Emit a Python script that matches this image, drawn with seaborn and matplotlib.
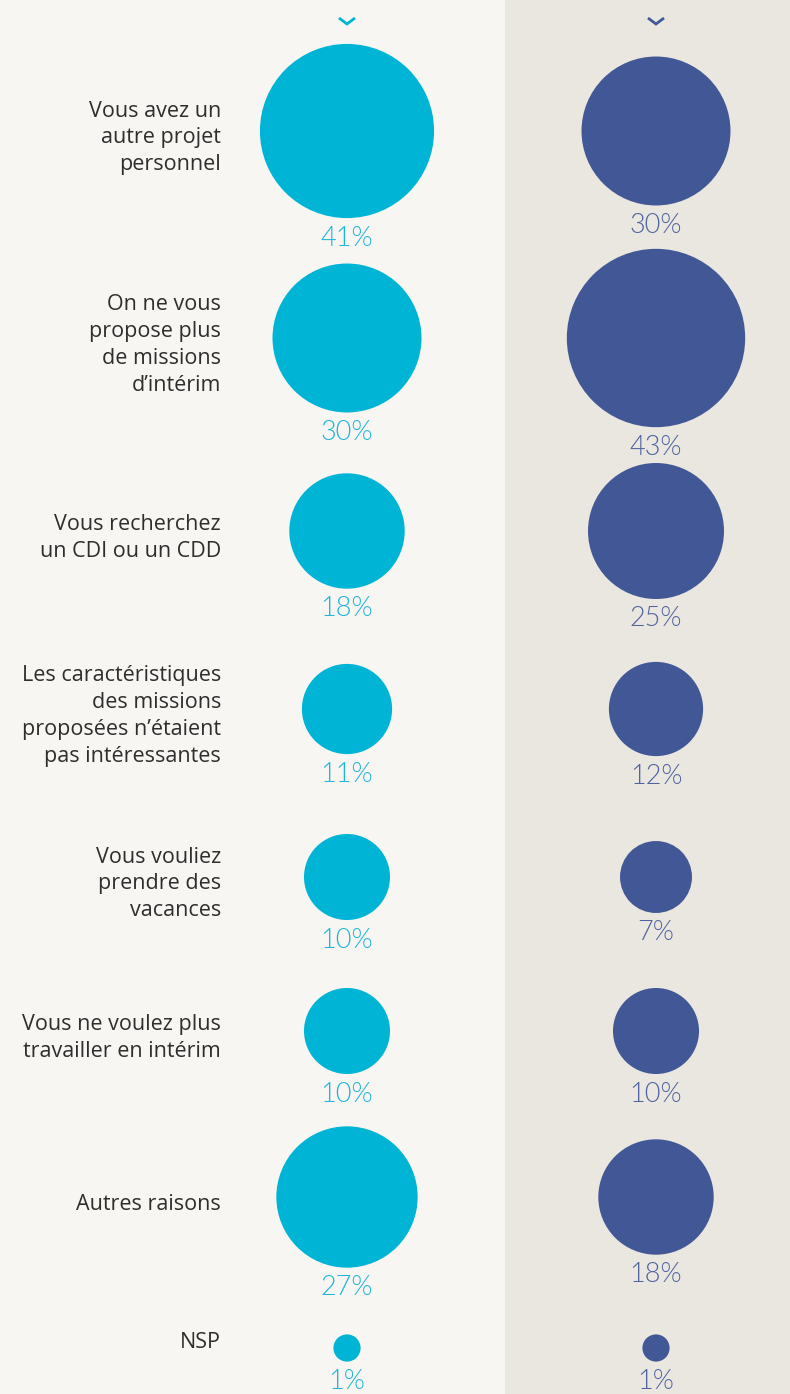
import matplotlib
matplotlib.use("Agg")
import matplotlib.pyplot as plt
import numpy as np
import pandas as pd
import seaborn as sns

# Reasons for leaving temp work, two respondent groups
categories = [
    "Vous avez un\nautre projet\npersonnel",
    "On ne vous\npropose plus\nde missions\nd\u2019intérim",
    "Vous recherchez\nun CDI ou un CDD",
    "Les caractéristiques\ndes missions\nproposées n\u2019étaient\npas intéressantes",
    "Vous vouliez\nprendre des\nvacances",
    "Vous ne voulez plus\ntravailler en intérim",
    "Autres raisons",
    "NSP",
]
group_a = [41, 30, 18, 11, 10, 10, 27, 1]
group_b = [30, 43, 25, 12, 7, 10, 18, 1]

# Layout (pixel units: figure is 790 x 1394 at 100 dpi)
W, H = 790, 1394
row_y = [131, 338, 531, 709, 877, 1031, 1197, 1348]
label_dy = [0, 0, 0, 0, 0, 0, 0, -12]
col_x = {"A": 347, "B": 656}
colors = {"A": "#00B4D6", "B": "#425796"}
text_colors = {"A": "#1FB4D8", "B": "#4F63A0"}
px_per_sqrt_pct = 27.2  # circle diameter in px for 1 %

sns.set_theme(style="white")
plt.rcParams["font.family"] = ["Open Sans", "DejaVu Sans"]

fig = plt.figure(figsize=(W / 100, H / 100), dpi=100, facecolor="#F7F6F2")
ax = fig.add_axes([0, 0, 1, 1])
ax.set_facecolor("#F7F6F2")
ax.axvspan(505, W, color="#EAE7E0", zorder=0, lw=0)

rows = []
for i, cat in enumerate(categories):
    rows.append({"cat": cat, "group": "A", "value": group_a[i], "x": col_x["A"], "y": row_y[i]})
    rows.append({"cat": cat, "group": "B", "value": group_b[i], "x": col_x["B"], "y": row_y[i]})
df = pd.DataFrame(rows)

# area proportional to value: s (pt^2) = (diameter_px * 0.72)^2
k = (px_per_sqrt_pct * 0.72) ** 2
vmax = 43
sns.scatterplot(
    data=df, x="x", y="y", hue="group", palette=colors,
    size="value", sizes=(0, k * vmax), size_norm=(0, vmax),
    linewidth=0, legend=False, ax=ax, zorder=3,
)
ax.set_xlim(0, W)
ax.set_ylim(H, 0)
ax.axis("off")

for _, r in df.iterrows():
    d = px_per_sqrt_pct * np.sqrt(r["value"])
    ax.text(r["x"], r["y"] + d / 2 + 27.5, f"{r['value']}%",
            ha="center", va="baseline", fontsize=19.5, fontweight=300,
            family=["Lato", "DejaVu Sans"],
            color=text_colors[r["group"]], zorder=4)

for i, cat in enumerate(categories):
    ax.text(221, row_y[i] + label_dy[i] + 7, cat, ha="right", va="center",
            fontsize=15.5, color="#2E2E2E", linespacing=1.37, zorder=4)

# chevrons at the top of each column
for g, cx in col_x.items():
    ax.plot([cx - 8, cx, cx + 8], [18, 24, 18], color=colors[g], lw=2.0,
            solid_capstyle="butt", solid_joinstyle="miter", zorder=4)

fig.savefig("out.png", dpi=100, facecolor=fig.get_facecolor())
